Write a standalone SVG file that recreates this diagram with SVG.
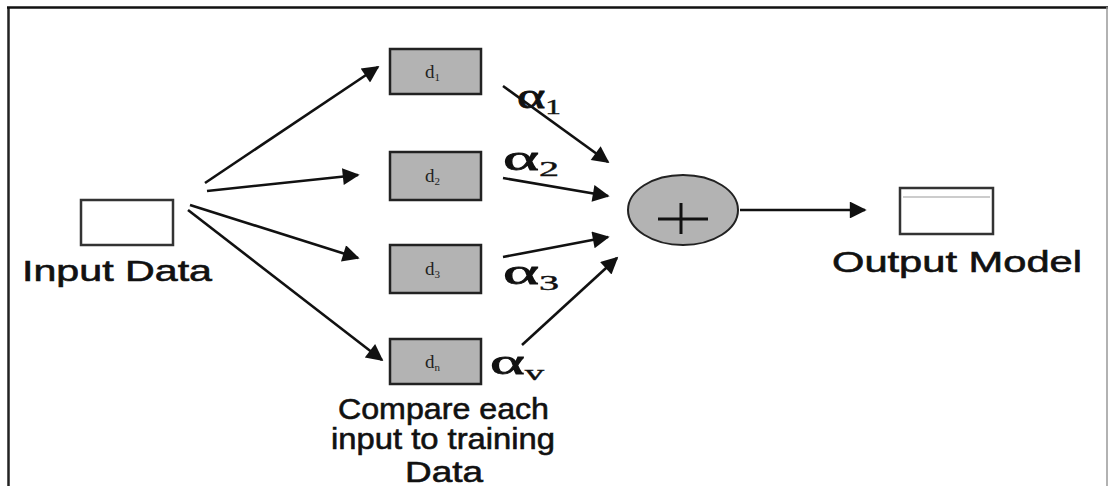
<svg xmlns="http://www.w3.org/2000/svg" width="1108" height="486" viewBox="0 0 1108 486">
<style>
.lbl{font-family:"Liberation Sans",Arial,sans-serif;font-size:30px;fill:#111;stroke:#111;stroke-width:0.6}
.d{font-family:"Liberation Serif",serif;font-size:19px;fill:#222}
.ds{font-family:"Liberation Serif",serif;font-size:11px;fill:#222}
.al{font-family:"Liberation Serif",serif;font-size:36px;fill:#111;stroke:#111;stroke-width:0.8}
.as{font-family:"Liberation Serif",serif;font-size:21px;fill:#111;stroke:#111;stroke-width:0.4}
.box{fill:#b3b3b3;stroke:#222;stroke-width:2.5}
.wbox{fill:#fff;stroke:#333;stroke-width:2.5}
.conn line{stroke:#111;stroke-width:2.6}
</style>
<defs>
<marker id="ah" viewBox="0 0 10 10" refX="9" refY="5" markerWidth="9" markerHeight="6.5" markerUnits="strokeWidth" orient="auto">
<path d="M0,0 L10,5 L0,10 z" fill="#111"/>
</marker>
</defs>
<rect width="1108" height="486" fill="#fff"/>
<g id="frame">
<line x1="8.5" y1="7" x2="8.5" y2="486" stroke="#222" stroke-width="2.5"/>
<line x1="7" y1="7.5" x2="1108" y2="7.5" stroke="#111" stroke-width="2.5"/>
<line x1="1107" y1="7" x2="1107" y2="486" stroke="#999" stroke-width="1.5"/>
</g>
<g id="input">
<rect class="wbox" x="81" y="200" width="92" height="45"/>
<text class="lbl" x="22" y="281" textLength="190" lengthAdjust="spacingAndGlyphs">Input Data</text>
</g>
<g id="d1">
<rect class="box" x="390" y="49" width="91" height="45"/>
<text class="d" x="425" y="78">d<tspan class="ds" dy="3">1</tspan></text>
</g>
<g id="d2">
<rect class="box" x="390" y="152" width="91" height="48"/>
<text class="d" x="425" y="182">d<tspan class="ds" dy="3">2</tspan></text>
</g>
<g id="d3">
<rect class="box" x="390" y="245" width="91" height="48"/>
<text class="d" x="425" y="275">d<tspan class="ds" dy="3">3</tspan></text>
</g>
<g id="dn">
<rect class="box" x="390" y="339" width="91" height="45"/>
<text class="d" x="425" y="368">d<tspan class="ds" dy="3">n</tspan></text>
</g>
<g id="compare">
<text class="lbl" x="338" y="419" textLength="211" lengthAdjust="spacingAndGlyphs">Compare each</text>
<text class="lbl" x="331" y="449" textLength="224" lengthAdjust="spacingAndGlyphs">input to training</text>
<text class="lbl" x="405" y="482" textLength="78" lengthAdjust="spacingAndGlyphs">Data</text>
</g>
<g id="sum">
<ellipse cx="683" cy="210" rx="55" ry="35" fill="#b3b3b3" stroke="#222" stroke-width="2"/>
<line x1="658" y1="219" x2="708" y2="219" stroke="#111" stroke-width="3"/>
<line x1="681" y1="203" x2="681" y2="234" stroke="#111" stroke-width="3"/>
</g>
<g id="output">
<rect class="wbox" x="900" y="188" width="93" height="46"/>
<line x1="903" y1="197" x2="990" y2="197" stroke="#bbb" stroke-width="1.5"/>
<text class="lbl" x="832" y="272" textLength="250" lengthAdjust="spacingAndGlyphs">Output Model</text>
</g>
<g id="weights">
<text class="al" x="517" y="108" textLength="44" lengthAdjust="spacingAndGlyphs">α<tspan class="as" dy="6">1</tspan></text>
<text class="al" x="503" y="170" textLength="56" lengthAdjust="spacingAndGlyphs">α<tspan class="as" dy="6">2</tspan></text>
<text class="al" x="503" y="284" textLength="56" lengthAdjust="spacingAndGlyphs">α<tspan class="as" dy="6">3</tspan></text>
<text class="al" x="490" y="374" textLength="54" lengthAdjust="spacingAndGlyphs">α<tspan class="as" dy="6">v</tspan></text>
</g>
<g class="conn" id="connectors">
<line x1="205" y1="183" x2="378" y2="67" marker-end="url(#ah)"/>
<line x1="207" y1="191" x2="358" y2="175" marker-end="url(#ah)"/>
<line x1="190" y1="205" x2="358" y2="258" marker-end="url(#ah)"/>
<line x1="188" y1="210" x2="382" y2="360" marker-end="url(#ah)"/>
<line x1="503" y1="86" x2="608" y2="162" marker-end="url(#ah)"/>
<line x1="503" y1="178" x2="608" y2="196" marker-end="url(#ah)"/>
<line x1="503" y1="257" x2="608" y2="237" marker-end="url(#ah)"/>
<line x1="522" y1="345" x2="617" y2="258" marker-end="url(#ah)"/>
<line x1="740" y1="210" x2="865" y2="210" marker-end="url(#ah)"/>
</g>
</svg>
